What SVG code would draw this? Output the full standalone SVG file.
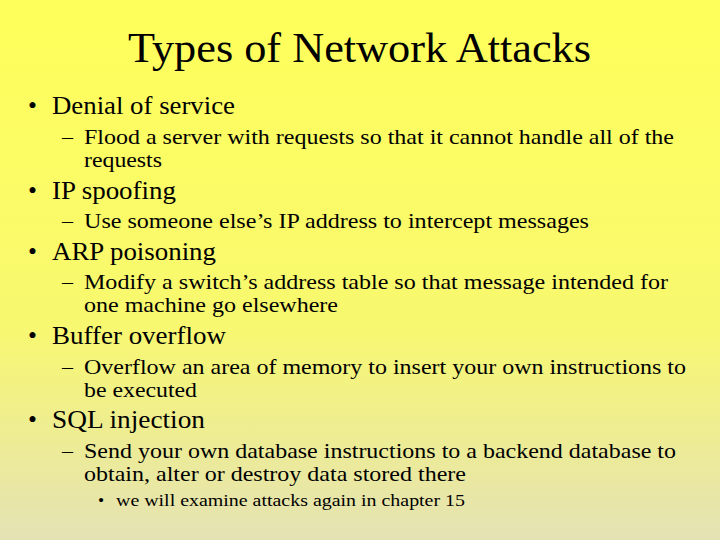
<svg xmlns="http://www.w3.org/2000/svg" width="720" height="540" viewBox="0 0 720 540">
<defs>
<linearGradient id="bg" x1="0" y1="0" x2="0" y2="1">
<stop offset="0" stop-color="#ffff5a"/>
<stop offset="0.6" stop-color="#f8f870"/>
<stop offset="1" stop-color="#e4e2b4"/>
</linearGradient>
<style>
text{font-family:"Liberation Serif",serif;fill:#000}
.t{font-size:42px}
.b{font-size:25.5px}
.s{font-size:22px}
.ss{font-size:17.5px}
</style>
</defs>
<rect width="720" height="540" fill="url(#bg)"/>
<text class="t" x="128" y="62" textLength="463" lengthAdjust="spacingAndGlyphs">Types of Network Attacks</text>
<g>
<text class="b" x="28" y="114">•</text><text class="b" x="52" y="114" textLength="183" lengthAdjust="spacingAndGlyphs">Denial of service</text>
<text class="b" x="28" y="199">•</text><text class="b" x="52" y="199" textLength="124" lengthAdjust="spacingAndGlyphs">IP spoofing</text>
<text class="b" x="28" y="260">•</text><text class="b" x="52" y="260" textLength="164" lengthAdjust="spacingAndGlyphs">ARP poisoning</text>
<text class="b" x="28" y="344">•</text><text class="b" x="52" y="344" textLength="174" lengthAdjust="spacingAndGlyphs">Buffer overflow</text>
<text class="b" x="28" y="428">•</text><text class="b" x="52" y="428" textLength="153" lengthAdjust="spacingAndGlyphs">SQL injection</text>
</g>
<g>
<text class="s" x="62" y="144">–</text><text class="s" x="84" y="144" textLength="590" lengthAdjust="spacingAndGlyphs">Flood a server with requests so that it cannot handle all of the</text>
<text class="s" x="84" y="167" textLength="78" lengthAdjust="spacingAndGlyphs">requests</text>
<text class="s" x="62" y="228">–</text><text class="s" x="84" y="228" textLength="505" lengthAdjust="spacingAndGlyphs">Use someone else’s IP address to intercept messages</text>
<text class="s" x="62" y="289">–</text><text class="s" x="84" y="289" textLength="584" lengthAdjust="spacingAndGlyphs">Modify a switch’s address table so that message intended for</text>
<text class="s" x="84" y="312" textLength="254" lengthAdjust="spacingAndGlyphs">one machine go elsewhere</text>
<text class="s" x="62" y="374">–</text><text class="s" x="84" y="374" textLength="602" lengthAdjust="spacingAndGlyphs">Overflow an area of memory to insert your own instructions to</text>
<text class="s" x="84" y="397" textLength="113" lengthAdjust="spacingAndGlyphs">be executed</text>
<text class="s" x="62" y="458">–</text><text class="s" x="84" y="458" textLength="592" lengthAdjust="spacingAndGlyphs">Send your own database instructions to a backend database to</text>
<text class="s" x="84" y="481" textLength="382" lengthAdjust="spacingAndGlyphs">obtain, alter or destroy data stored there</text>
<text class="ss" x="98" y="506">•</text><text class="ss" x="116" y="506" textLength="349" lengthAdjust="spacingAndGlyphs">we will examine attacks again in chapter 15</text>
</g>
</svg>
